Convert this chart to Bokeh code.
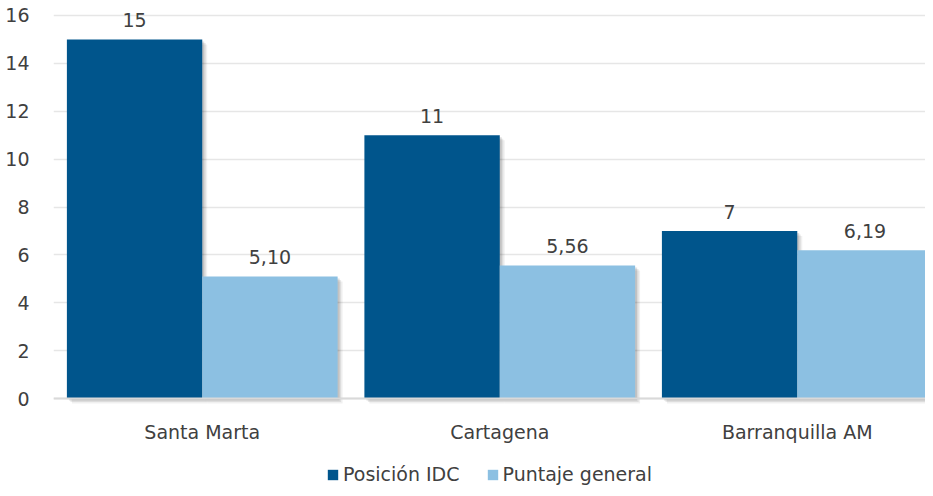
from bokeh.plotting import figure
from bokeh.models import ColumnDataSource, Legend, LegendItem, FixedTicker, Range1d, LabelSet
from bokeh.core.properties import value
from bokeh.embed import file_html
from bokeh.resources import INLINE

categories = ["Santa Marta", "Cartagena", "Barranquilla AM"]
posicion_idc = [15, 11, 7]
puntaje_general = [5.10, 5.56, 6.19]
y_ticks = [0, 2, 4, 6, 8, 10, 12, 14, 16]

DARK = "#00558C"
LIGHT = "#8CC0E2"
TXT = "#404040"
FONT = "DejaVu Sans"

centers = [i + 0.5 for i in range(len(categories))]
bw = 0.455
ppu = 23.94  # pixels per y unit

p = figure(width=925, height=488, output_backend="svg", toolbar_location=None,
           x_range=Range1d(0, 2.931), y_range=Range1d(-90 / ppu, 16 + 15 / ppu),
           min_border_left=53, min_border_right=0, min_border_top=0, min_border_bottom=0)
p.outline_line_color = None

dark_src = ColumnDataSource(dict(
    left=[c - bw for c in centers], right=centers, top=posicion_idc,
    lx=[c - bw / 2 for c in centers], lab=[f"{v:d}" for v in posicion_idc]))
light_src = ColumnDataSource(dict(
    left=centers, right=[c + bw for c in centers], top=puntaje_general,
    lx=[c + bw / 2 for c in centers], lab=[f"{v:.2f}".replace(".", ",") for v in puntaje_general]))

# soft shadows derived from the bar data
for src in (dark_src, light_src):
    d = src.data
    for k, a in [(5, 0.06), (3.5, 0.08), (2, 0.12)]:
        p.quad(left=[l + k / 297.5 for l in d["left"]], right=[r + k / 297.5 for r in d["right"]],
               top=[t - k / ppu for t in d["top"]], bottom=[-k / ppu] * len(d["top"]),
               fill_color="#000000", fill_alpha=a, line_color=None)

r1 = p.quad(left="left", right="right", top="top", bottom=0, source=dark_src,
            fill_color=DARK, line_color=None)
r2 = p.quad(left="left", right="right", top="top", bottom=0, source=light_src,
            fill_color=LIGHT, line_color=None)

for src in (dark_src, light_src):
    p.add_layout(LabelSet(x="lx", y="top", text="lab", source=src, y_offset=12,
                          text_align="center", text_baseline="bottom",
                          text_font=value(FONT), text_font_size="19px", text_color=TXT))

p.xaxis.fixed_location = 0
p.xaxis.ticker = FixedTicker(ticks=centers)
p.xaxis.major_label_overrides = {c: n for c, n in zip(centers, categories)}
p.xaxis.major_tick_line_color = None
p.xaxis.minor_tick_line_color = None
p.xaxis.axis_line_color = "#D9D9D9"
p.xaxis.axis_line_width = 2
p.xaxis.major_label_standoff = 16
p.xaxis.major_label_text_font = FONT
p.xaxis.major_label_text_font_size = "19px"
p.xaxis.major_label_text_color = TXT

p.yaxis.ticker = FixedTicker(ticks=y_ticks)
p.yaxis.major_tick_line_color = None
p.yaxis.minor_tick_line_color = None
p.yaxis.axis_line_color = None
p.yaxis.major_label_standoff = 18
p.yaxis.major_label_text_font = FONT
p.yaxis.major_label_text_font_size = "19px"
p.yaxis.major_label_text_color = TXT

p.xgrid.grid_line_color = None
p.ygrid.grid_line_color = "#E6E6E6"
p.ygrid.grid_line_width = 1.5

legend = Legend(items=[LegendItem(label="Posición IDC", renderers=[r1]),
                       LegendItem(label="Puntaje general", renderers=[r2])],
                orientation="horizontal", location=(273, 3),
                label_text_font=FONT, label_text_font_size="19px", label_text_color=TXT,
                glyph_width=13, glyph_height=13, label_standoff=4, spacing=26,
                border_line_color=None, background_fill_alpha=0,
                padding=0, margin=0)
p.add_layout(legend, "center")

open("out.html", "w").write(file_html(p, INLINE))
